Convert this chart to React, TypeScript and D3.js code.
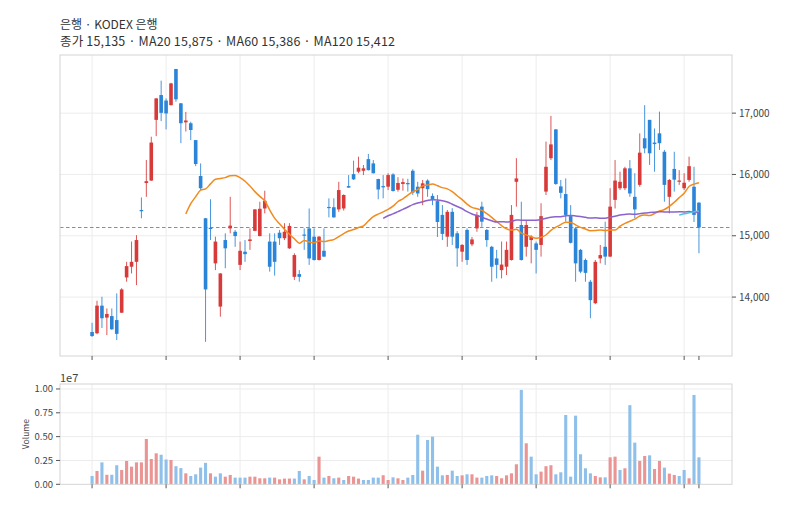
import React from "react";
import * as d3 from "d3";

// ---- Data ----
const titleLine1 = "은행 · KODEX 은행";
const titleLine2 = "종가 15,135 · MA20 15,875 · MA60 15,386 · MA120 15,412";

const opens = [
  13430, 13410, 13860, 13665, 13690, 13625, 13745, 14320, 14495, 14575,
  15420, 15860, 15900, 16890, 17295, 17205, 17130, 17720, 17160, 16850,
  16835, 16560, 15975, 15285, 15130, 14550, 13845, 14930, 15120, 15065,
  14525, 14740, 14915, 15080, 14995, 15445, 14905, 14905, 15050, 14960,
  14795, 14330, 14375, 15020, 15120, 14985, 14605, 14755, 15470, 15465,
  15430, 15445, 15810, 16005, 16045, 16060, 16250, 16180, 15925, 15810,
  15800, 16000, 15750, 15845, 15860, 16060, 15800, 15775, 15900, 15650,
  15565, 15340, 14985, 15390, 15040, 14740, 15095, 14860, 15120, 15475,
  15095, 14820, 14630, 14440, 14495, 14605, 15880, 15175, 14820, 14930,
  14875, 14850, 15720, 16265, 16735, 15805, 15680, 15320, 15120, 14770,
  14605, 14250, 13900, 14630, 14820, 14660, 15585, 15775, 15775, 16100,
  15635, 15830, 16590, 16890, 16520, 16670, 16370, 15635, 16090, 15890,
  15775, 15910, 15800, 15540,
];
const highs = [
  13580, 13940, 14005, 13815, 13815, 14060, 14145, 14575, 14905, 15010,
  15625, 16235, 16615, 17245, 17530, 17240, 17495, 17720, 17165, 17020,
  16860, 16560, 16180, 15290, 15595, 14985, 14390, 15040, 15635, 15095,
  14905, 14930, 15120, 15435, 15555, 15735, 15040, 15040, 15095, 15205,
  15205, 14715, 14440, 15120, 15445, 15120, 14995, 15120, 15610, 15610,
  15880, 15675, 15990, 16225, 16290, 16155, 16335, 16235, 15930, 15990,
  16020, 16020, 15955, 15935, 15930, 16085, 15880, 15910, 15920, 15690,
  15665, 15500, 15420, 15450, 15075, 14865, 15120, 14980, 15390, 15555,
  15110, 14835, 14770, 14905, 14905, 15500, 16265, 15555, 15255, 15010,
  14905, 15530, 16535, 16955, 16740, 15910, 15935, 15500, 15145, 14785,
  14630, 14280, 14605, 14850, 15230, 15775, 16235, 16045, 16125, 16235,
  16020, 16670, 17130, 16890, 16750, 17025, 16400, 15925, 16370, 16070,
  16020, 16290, 16125, 15545,
];
const lows = [
  13350, 13395, 13495, 13380, 13465, 13300, 13740, 14250, 14385, 14195,
  15285, 15635, 15895, 16625, 16870, 16735, 17125, 17185, 16510, 16700,
  16560, 16135, 15745, 13270, 14930, 14440, 13680, 14470, 15040, 14820,
  14440, 14575, 14770, 15075, 14990, 15365, 14415, 14350, 14850, 14930,
  14785, 14280, 14250, 14770, 14525, 14595, 14595, 14655, 15300, 15295,
  15390, 15410, 15780, 15910, 16020, 15990, 16065, 16015, 15595, 15610,
  15745, 15720, 15720, 15735, 15720, 15665, 15635, 15500, 15635, 15500,
  14980, 14930, 14820, 14850, 14495, 14575, 14525, 14830, 15065, 15145,
  14820, 14250, 14305, 14305, 14360, 14595, 15475, 14595, 14660, 14550,
  14385, 14660, 15665, 16235, 15830, 15610, 15230, 14875, 14250, 14390,
  14250, 13655, 13885, 14550, 14525, 14655, 15445, 15745, 15745, 15635,
  15285, 15800, 16345, 16155, 16045, 16400, 15555, 15365, 15720, 15830,
  15745, 15880, 15225, 14715,
];
const closes = [
  13365, 13860, 13655, 13725, 13475, 13400, 14125, 14505, 14575, 14930,
  15400, 15890, 16520, 17240, 17005, 16995, 17485, 17225, 16835, 16880,
  16725, 16170, 15775, 14125, 15110, 14905, 14385, 14795, 15165, 14995,
  14755, 14700, 14940, 15430, 15440, 15570, 14495, 14575, 14960, 15065,
  15160, 14685, 14330, 15000, 14630, 14605, 14985, 14660, 15455, 15300,
  15745, 15665, 15785, 15920, 16110, 16100, 16070, 16020, 15755, 15790,
  15990, 15730, 15860, 15875, 15840, 15705, 15690, 15855, 15760, 15585,
  15225, 15030, 15390, 14985, 14795, 14850, 14605, 14940, 15340, 15230,
  14930, 14495, 14525, 14530, 14770, 15340, 15935, 14605, 15175, 14985,
  14770, 15320, 16125, 16490, 15845, 15700, 15340, 14885, 14550, 14415,
  14395, 13950, 14575, 14685, 14660, 15475, 15900, 15880, 16100, 15690,
  15430, 16355, 16425, 16345, 16495, 16510, 15830, 15910, 15915, 15900,
  15865, 16135, 15340, 15135,
];
const volumes = [
  0.087e7, 0.14e7, 0.23e7, 0.10e7, 0.10e7, 0.20e7, 0.15e7, 0.245e7, 0.185e7, 0.23e7,
  0.23e7, 0.475e7, 0.265e7, 0.325e7, 0.31e7, 0.26e7, 0.255e7, 0.19e7, 0.17e7, 0.115e7,
  0.087e7, 0.105e7, 0.175e7, 0.225e7, 0.115e7, 0.08e7, 0.115e7, 0.08e7, 0.098e7, 0.07e7,
  0.07e7, 0.07e7, 0.08e7, 0.08e7, 0.063e7, 0.063e7, 0.07e7, 0.07e7, 0.052e7, 0.06e7,
  0.06e7, 0.06e7, 0.14e7, 0.052e7, 0.087e7, 0.045e7, 0.29e7, 0.07e7, 0.087e7, 0.063e7,
  0.07e7, 0.045e7, 0.087e7, 0.08e7, 0.06e7, 0.045e7, 0.045e7, 0.07e7, 0.07e7, 0.095e7,
  0.045e7, 0.073e7, 0.063e7, 0.045e7, 0.07e7, 0.098e7, 0.52e7, 0.143e7, 0.465e7, 0.50e7,
  0.185e7, 0.094e7, 0.098e7, 0.143e7, 0.087e7, 0.094e7, 0.105e7, 0.105e7, 0.07e7, 0.07e7,
  0.087e7, 0.094e7, 0.087e7, 0.063e7, 0.094e7, 0.115e7, 0.21e7, 0.99e7, 0.43e7, 0.29e7,
  0.105e7, 0.133e7, 0.19e7, 0.20e7, 0.105e7, 0.126e7, 0.727e7, 0.08e7, 0.72e7, 0.315e7,
  0.168e7, 0.115e7, 0.087e7, 0.073e7, 0.073e7, 0.283e7, 0.29e7, 0.15e7, 0.168e7, 0.83e7,
  0.437e7, 0.245e7, 0.297e7, 0.304e7, 0.16e7, 0.245e7, 0.175e7, 0.112e7, 0.098e7, 0.087e7,
  0.15e7, 0.063e7, 0.937e7, 0.283e7,
];
const priceTicks = [14000, 15000, 16000, 17000];
const priceTickLabels = ["14,000", "15,000", "16,000", "17,000"];
const volTicks = [0, 0.25e7, 0.5e7, 0.75e7, 1.0e7];
const volTickLabels = ["0.00", "0.25", "0.50", "0.75", "1.00"];
const xGridIdx = [0, 15, 30, 45, 60, 75, 90, 105, 120];
const xTickIdx = [0, 15, 30, 45, 60, 75, 90, 105, 120, 123];
const maPeriods = [20, 60, 120];
const maColors = ["#f28b1e", "#8a63cc", "#52c3dc"];
const lastClose = 15135;

// ---- Styles ----
const W = 789;
const H = 512;
const L = 60, R = 732;
const MT = 55, MB = 356;
const VT = 384, VB = 484.3;
const UP = "#d83a3a";
const DOWN = "#2a84d8";
const UP_V = "#ea9493";
const DOWN_V = "#8fc0ea";
const GRID = "#ececec";
const FRAME = "#d4d4d4";
const FONT = "'Noto Sans CJK KR', 'Noto Sans', sans-serif";

function sma(n: number) {
  const out: { i: number; v: number }[] = [];
  for (let i = n - 1; i < closes.length; i++) {
    let s = 0;
    for (let k = i - n + 1; k <= i; k++) s += closes[k];
    out.push({ i, v: s / n });
  }
  return out;
}

export default function App() {
  const x = d3.scaleLinear().domain([-6.5, 129.7]).range([L, R]);
  const y = d3.scaleLinear().domain([13039, 17948]).range([MB, MT]);
  const yv = d3.scaleLinear().domain([0, 1.052e7]).range([VB, VT]);
  const bodyW = 3.6;
  const barW = 3.1;

  const line = d3
    .line<{ i: number; v: number }>()
    .x((d) => x(d.i))
    .y((d) => y(d.v))
    .curve(d3.curveMonotoneX);

  const idx = d3.range(closes.length);
  const yClose = Math.round(y(lastClose)) + 0.5;

  return (
    <div style={{ position: "absolute", left: 0, top: 0 }}>
      <svg width={W} height={H} style={{ display: "block", background: "#fff" }} fontFamily={FONT}>
        <text x={60} y={29} fontSize={12} fill="#333">{titleLine1}</text>
        <text x={60} y={46} fontSize={12.5} fill="#333" textLength={335} lengthAdjust="spacing">{titleLine2}</text>

        {/* main panel grid */}
        {xGridIdx.map((i) => (
          <line key={"gx" + i} x1={x(i)} x2={x(i)} y1={MT} y2={MB} stroke={GRID} strokeWidth={1} />
        ))}
        {priceTicks.map((t) => (
          <line key={"gy" + t} x1={L} x2={R} y1={y(t)} y2={y(t)} stroke={GRID} strokeWidth={1} />
        ))}

        {/* last close dashed line */}
        <line x1={L} x2={R} y1={yClose} y2={yClose} stroke="#e4628a" strokeWidth={1} strokeDasharray="3.5,2.5" />

        {/* candles */}
        {idx.map((i) => {
          const up = closes[i] >= opens[i];
          const c = up ? UP : DOWN;
          const top = y(Math.max(opens[i], closes[i]));
          const bot = y(Math.min(opens[i], closes[i]));
          return (
            <g key={"c" + i}>
              <line x1={x(i)} x2={x(i)} y1={y(highs[i])} y2={y(lows[i])} stroke={c} strokeWidth={1} opacity={0.85} />
              <rect x={x(i) - bodyW / 2} y={top} width={bodyW} height={Math.max(1.2, bot - top)} fill={c} />
            </g>
          );
        })}

        {/* moving averages */}
        {maPeriods.map((n, k) => (
          <path key={"ma" + n} d={line(sma(n)) || ""} fill="none" stroke={maColors[k]} strokeWidth={1.5} />
        ))}

        {/* main frame */}
        <rect x={L} y={MT} width={R - L} height={MB - MT} fill="none" stroke={FRAME} strokeWidth={1} />
        {priceTicks.map((t, k) => (
          <g key={"yt" + t}>
            <line x1={R} x2={R + 4} y1={y(t)} y2={y(t)} stroke="#555" strokeWidth={1} />
            <text x={R + 7} y={y(t)} dy="0.35em" fontSize={10} fill="#444">{priceTickLabels[k]}</text>
          </g>
        ))}
        {xTickIdx.map((i) => (
          <line key={"xt" + i} x1={x(i)} x2={x(i)} y1={MB} y2={MB + 4} stroke="#555" strokeWidth={1} />
        ))}

        {/* volume panel */}
        {xGridIdx.map((i) => (
          <line key={"vgx" + i} x1={x(i)} x2={x(i)} y1={VT} y2={VB} stroke={GRID} strokeWidth={1} />
        ))}
        {volTicks.slice(1).map((t) => (
          <line key={"vgy" + t} x1={L} x2={R} y1={yv(t)} y2={yv(t)} stroke={GRID} strokeWidth={1} />
        ))}
        {idx.map((i) => {
          const up = i === 0 ? closes[i] >= opens[i] : closes[i] >= closes[i - 1];
          return (
            <rect key={"v" + i} x={x(i) - barW / 2} y={yv(volumes[i])} width={barW} height={yv(0) - yv(volumes[i])} fill={up ? UP_V : DOWN_V} />
          );
        })}
        <rect x={L} y={VT} width={R - L} height={VB - VT} fill="none" stroke={FRAME} strokeWidth={1} />
        {volTicks.map((t, k) => (
          <g key={"vt" + t}>
            <line x1={L - 4} x2={L} y1={yv(t)} y2={yv(t)} stroke="#555" strokeWidth={1} />
            <text x={L - 7} y={yv(t)} dy="0.35em" fontSize={9.5} fill="#444" textAnchor="end">{volTickLabels[k]}</text>
          </g>
        ))}
        {xTickIdx.map((i) => (
          <line key={"vxt" + i} x1={x(i)} x2={x(i)} y1={VB} y2={VB + 4} stroke="#555" strokeWidth={1} />
        ))}
        <text x={60} y={382} fontSize={11} fill="#444">1e7</text>
        <text transform={`translate(29,${(VT + VB) / 2}) rotate(-90)`} textAnchor="middle" fontSize={8.5} fill="#444">Volume</text>
      </svg>
    </div>
  );
}
